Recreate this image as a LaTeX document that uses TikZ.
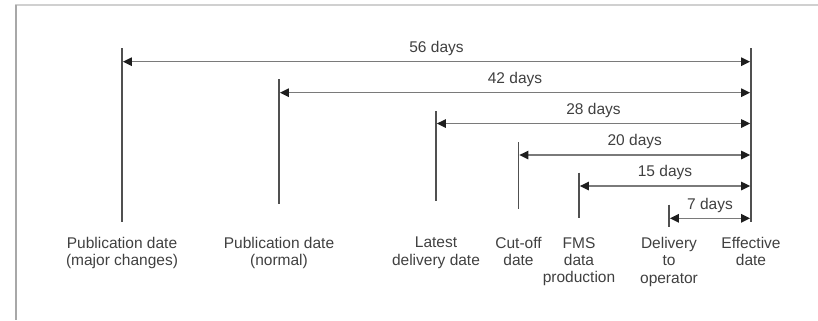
\documentclass[tikz,border=0pt]{standalone}
\usepackage{fontspec}
\setmainfont{Liberation Sans}
\usetikzlibrary{arrows.meta}
\definecolor{txt}{HTML}{404040}
\definecolor{tickc}{HTML}{505050}
\definecolor{spanc}{HTML}{7A7A7A}
\definecolor{tipc}{HTML}{1E1E1E}
\definecolor{frametop}{HTML}{D0D0D0}
\definecolor{frameleft}{HTML}{A8A8A8}
\begin{document}
\begin{tikzpicture}[x=1bp,y=-1bp,
  every node/.style={font=\fontsize{15.5bp}{17.4bp}\selectfont, text=txt, inner sep=0pt},
  tick/.style={draw=tickc, line width=1.8bp},
  span/.style={draw=spanc, line width=1.4bp, shorten <=0.9bp, shorten >=0.9bp,
    {Triangle[length=9bp,width=8.5bp,color=tipc]}-{Triangle[length=9bp,width=8.5bp,color=tipc]}},
  daylab/.style={anchor=base, yshift=9.2bp},
  datelab/.style={anchor=north, align=center}]
\useasboundingbox (0,0) rectangle (818,320);
% frame
\draw[frametop, line width=1.5bp] (15,5) -- (818,5);
\draw[frameleft, line width=2bp] (15.5,4.5) -- (15.5,320);
% ticks
\coordinate (At) at (122,48);    \coordinate (Ab) at (122,222);
\coordinate (Bt) at (279,79);    \coordinate (Bb) at (279,204);
\coordinate (Ct) at (436,111);   \coordinate (Cb) at (436,201);
\coordinate (Dt) at (518.5,142); \coordinate (Db) at (518.5,209);
\coordinate (Et) at (579,172.5); \coordinate (Eb) at (579,218);
\coordinate (Ft) at (669,204.5); \coordinate (Fb) at (669,227);
\coordinate (Gt) at (751,48);    \coordinate (Gb) at (751,222);
\foreach \n in {A,B,C,D,E,F,G} \draw[tick] (\n t) -- (\n b);
% span end points
\coordinate (s1a) at (122,61.7);   \coordinate (s1b) at (751,61.7);
\coordinate (s2a) at (279,92.7);   \coordinate (s2b) at (751,92.7);
\coordinate (s3a) at (436,123.5);  \coordinate (s3b) at (751,123.5);
\coordinate (s4a) at (518.5,155);  \coordinate (s4b) at (751,155);
\coordinate (s5a) at (579,186);    \coordinate (s5b) at (751,186);
\coordinate (s6a) at (669,218.3);  \coordinate (s6b) at (751,218.3);
\draw[span] (s1a) -- (s1b) node[midway, daylab] (l1) {56 days};
\draw[span] (s2a) -- (s2b) node[midway, daylab] (l2) {42 days};
\draw[span] (s3a) -- (s3b) node[midway, daylab] (l3) {28 days};
\draw[span] (s4a) -- (s4b) node[midway, daylab] (l4) {20 days};
\draw[span] (s5a) -- (s5b) node[midway, daylab] (l5) {15 days};
\draw[span] (s6a) -- (s6b) node[midway, daylab] (l6) {7 days};
% date labels
\node[datelab] (dA) at (122,237) {Publication date\\(major changes)};
\node[datelab] (dB) at (279,237) {Publication date\\(normal)};
\node[datelab] (dC) at (436,237) {Latest\\delivery date};
\node[datelab] (dD) at (518.5,237) {Cut-off\\date};
\node[datelab] (dE) at (579,237) {FMS\\data\\production};
\node[datelab] (dF) at (669,237) {Delivery\\to\\operator};
\node[datelab] (dG) at (751,237) {Effective\\date};
\end{tikzpicture}
\end{document}
